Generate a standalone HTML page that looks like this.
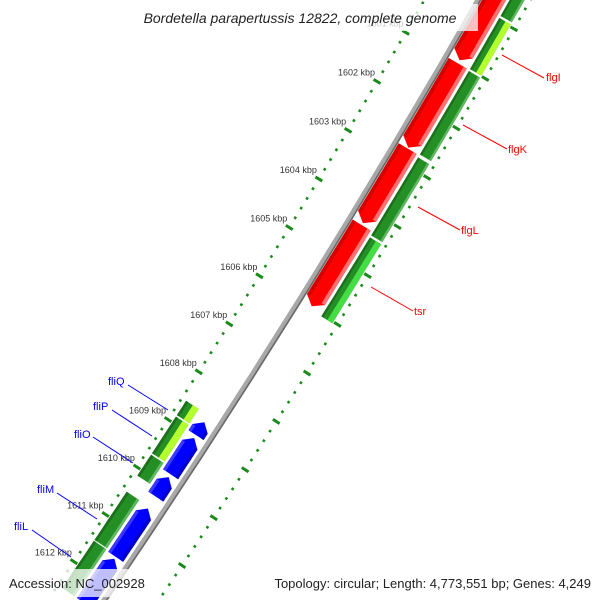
<!DOCTYPE html>
<html><head><meta charset="utf-8"><style>
html,body{margin:0;background:#fff;width:600px;height:600px;overflow:hidden}
svg{display:block;font-family:"Liberation Sans","DejaVu Sans",sans-serif;overflow:hidden}
</style></head><body>
<svg id="map" width="600" height="600" viewBox="0 0 600 600">
<rect width="600" height="600" fill="#fff"/>
<g id="rings"></g>
<g id="backbone"></g>
<g id="features"></g>
<g id="labels">
 <g stroke="#ff0000" stroke-width="1">
  <line x1="502" y1="55" x2="544" y2="78"/>
  <line x1="463" y1="125" x2="507" y2="149"/>
  <line x1="418" y1="207" x2="460" y2="230"/>
  <line x1="371" y1="287" x2="413" y2="311"/>
 </g>
 <g fill="#ff0000" font-size="11">
  <text x="546" y="81">flgI</text>
  <text x="508" y="153">flgK</text>
  <text x="461" y="234">flgL</text>
  <text x="414" y="315">tsr</text>
 </g>
 <g stroke="#0000ff" stroke-width="1">
  <line x1="128" y1="385" x2="168" y2="410"/>
  <line x1="112" y1="410" x2="152" y2="436"/>
  <line x1="93" y1="437" x2="133" y2="463"/>
  <line x1="57" y1="493" x2="97" y2="519"/>
  <line x1="32" y1="530" x2="71" y2="557"/>
 </g>
 <g fill="#0000ff" font-size="11">
  <text x="108" y="385">fliQ</text>
  <text x="93" y="410">fliP</text>
  <text x="74" y="438">fliO</text>
  <text x="37" y="493">fliM</text>
  <text x="14" y="530">fliL</text>
 </g>
</g>
<rect x="124" y="4" width="354" height="27" fill="#fff" fill-opacity="0.75"/>
<text x="300" y="23" text-anchor="middle" font-size="14" font-style="italic" fill="#222">Bordetella parapertussis 12822, complete genome</text>
<rect x="3" y="569" width="147" height="28" fill="#fff" fill-opacity="0.75"/>
<text x="9" y="588" font-size="13" fill="#222">Accession: NC_002928</text>
<rect x="254" y="569" width="343" height="28" fill="#fff" fill-opacity="0.75"/>
<text x="591" y="588" text-anchor="end" font-size="13" fill="#222">Topology: circular; Length: 4,773,551 bp; Genes: 4,249</text>
</svg>
<script>
// data (kbp)
const tickLabels = [1601,1602,1603,1604,1605,1606,1607,1608,1609,1610,1611,1612];
const fwdStarts = [1599.3,1601.01,1602.74,1604.30];
const fwdEnds   = [1600.95,1602.72,1604.26,1605.97];
const outGreenStarts = [1599.2,1599.96,1601.03,1602.78,1604.41];
const outGreenEnds   = [1599.92,1600.99,1602.72,1604.37,1606.03];
const outGreenLight  = [0,1,0,0,2];
const revStarts = [1608.69,1609.02,1609.84,1610.50,1611.56];
const revEnds   = [1608.96,1609.78,1610.25,1611.52,1612.5];
const inGreenStarts = [1608.55,1608.88,1609.68,1610.46,1611.50];
const inGreenEnds   = [1608.85,1609.65,1610.12,1611.48,1612.5];
const inGreenLight  = [1,1,0,0,0];

const NS='http://www.w3.org/2000/svg';
const CX=-7405, CY=-4497, R=9075;
function th(k){return 0.5318+(k-1602)*0.00629;}
function pt(k,r){const a=th(k);return [CX+r*Math.cos(a),CY+r*Math.sin(a)];}
function mk(tag,parent,attrs){const e=document.createElementNS(NS,tag);for(const k in attrs)e.setAttribute(k,attrs[k]);parent.appendChild(e);return e;}
function arcPts(k1,k2,r){const p=[];const n=8;for(let i=0;i<=n;i++){p.push(pt(k1+(k2-k1)*i/n,r));}return p;}
function shape(k1,k2,r1,r2,dir,head){
  let pts;
  if(dir===1){const b=Math.max(k1,k2-head);pts=arcPts(k1,b,r1).concat([pt(k2,(r1+r2)/2)]).concat(arcPts(b,k1,r2));}
  else if(dir===-1){const b=Math.min(k2,k1+head);pts=[pt(k1,(r1+r2)/2)].concat(arcPts(b,k2,r1)).concat(arcPts(k2,b,r2));}
  else pts=arcPts(k1,k2,r1).concat(arcPts(k2,k1,r2));
  return pts.map(p=>p[0].toFixed(1)+','+p[1].toFixed(1)).join(' ');
}
const rings=document.getElementById('rings');
for(let i=0;i<=66;i++){
  const k=1599.4+i*0.2; const kr=Math.round(k*10)/10;
  const major=Math.abs(kr-Math.round(kr))<0.01;
  for(const r of [R-46,R+46]){
    const len=major?4:1.3;
    const a=pt(kr,r-len),b=pt(kr,r+len);
    const l=mk('line',rings,{x1:a[0],y1:a[1],x2:b[0],y2:b[1],stroke:'#1a8a1a','stroke-width':major?3:2.6});
    
    
  }
}
tickLabels.forEach(k=>{
  const p=pt(k,R-46);
  const t=mk('text',rings,{x:p[0]-2,y:p[1]-6,'text-anchor':'end','font-size':'9',fill:'#333'});
  t.textContent=k+' kbp';
  
  
});
const bb=document.getElementById('backbone');
const bp=arcPts(1599.5,1612.4,R);
let d='M'+bp.map(p=>p[0].toFixed(1)+','+p[1].toFixed(1)).join(' L');
const s1=mk('path',bb,{d:d,fill:'none',stroke:'#6a6a6a','stroke-width':5,transform:'translate(1,0.6)'});


const s2=mk('path',bb,{d:d,fill:'none',stroke:'#a8a8a8','stroke-width':4});


const fg=document.getElementById('features');
function feature(k1,k2,r1,r2,dir,col,dark,light,name){
  const g=mk('g',fg,{});
  
  
  const h=0.14;
  mk('polygon',g,{points:shape(k1,k2,r1,r2,dir,h),fill:col});
  const mid1=r1+(r2-r1)*0.18, mid2=r2-(r2-r1)*0.18;
  const ks=dir===-1?k1+h:k1, ke=dir===1?k2-h:k2;
  mk('polygon',g,{points:shape(ks,ke,r1,mid1,0,0),fill:dark});
  mk('polygon',g,{points:shape(ks,ke,mid2,r2,0,0),fill:light});
}
fwdStarts.forEach((s,i)=>feature(s,fwdEnds[i],R+4,R+25,1,'#ff0000','#d40000','#ff7070','forward-gene'));
outGreenStarts.forEach((s,i)=>{
  feature(s,outGreenEnds[i],R+28,R+41,0,'#248f24','#1c701c','#5fb85f','outer-cog-feature');
  if(outGreenLight[i]){const g=mk('polygon',fg,{points:shape(s,outGreenEnds[i],R+35,R+41,0,0),fill:outGreenLight[i]===1?'#b4ff2e':'#44dd44'});
    
    }
});
revStarts.forEach((s,i)=>feature(s,revEnds[i],R-23,R-5,-1,'#0000ff','#3a3aff','#0000c8','reverse-gene'));
inGreenStarts.forEach((s,i)=>{
  feature(s,inGreenEnds[i],R-41,R-26,0,'#248f24','#1c701c','#5fb85f','inner-cog-feature');
  if(inGreenLight[i]){const g=mk('polygon',fg,{points:shape(s,inGreenEnds[i],R-33,R-26,0,0),fill:'#b4ff2e'});
    
    }
});
</script>
</body></html>
